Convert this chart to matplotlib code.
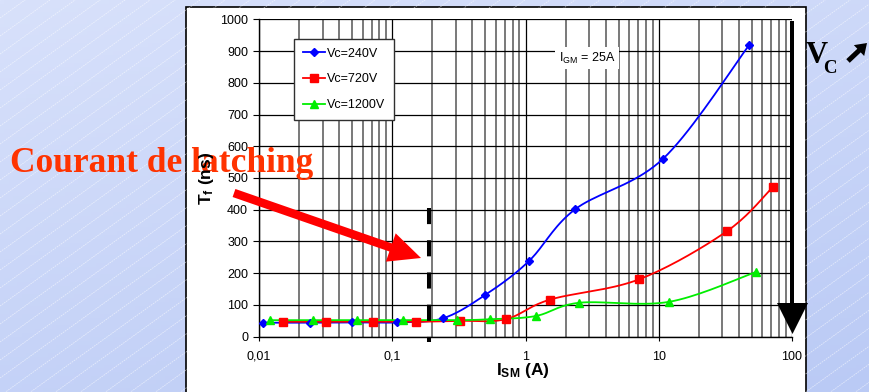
import numpy as np
import matplotlib
matplotlib.use('Agg')
import matplotlib.pyplot as plt
from matplotlib.patches import Rectangle, Polygon, FancyArrow
from matplotlib.lines import Line2D
from matplotlib.ticker import FixedLocator, NullFormatter, LogLocator

plt.rcParams['font.family'] = ['Liberation Sans', 'DejaVu Sans']
plt.rcParams['mathtext.fontset'] = 'custom'
plt.rcParams['mathtext.rm'] = 'Liberation Sans'
plt.rcParams['mathtext.bf'] = 'Liberation Sans:bold'

# values
i_240 = [0.0108, 0.024, 0.050, 0.108, 0.24, 0.50, 1.06, 2.35, 10.8, 47.9]
tf_240 = [44, 44, 45, 45, 58, 132, 238, 401, 561, 920]
i_720 = [0.0152, 0.032, 0.0713, 0.152, 0.32, 0.71, 1.53, 7.15, 32.4, 71.6]
tf_720 = [47, 47, 47, 47, 50, 55, 117, 181, 332, 471]
i_1200 = [0.012, 0.0256, 0.054, 0.12, 0.305, 0.54, 1.19, 2.54, 12.0, 53.7]
tf_1200 = [52, 52, 52, 52, 52, 55, 65, 107, 110, 204]
labels = ['Vc=240V', 'Vc=720V', 'Vc=1200V']
x_ticks = [0.01, 0.1, 1, 10, 100]
x_ticklabels = ['0,01', '0,1', '1', '10', '100']
y_ticks = list(range(0, 1001, 100))
i_latch = 0.19


def smooth(x, y, n=20):
    # catmull-rom through the points, in log-x space (like excel smoothed lines)
    P = np.column_stack([np.log10(x), np.asarray(y, float)])
    out = [P[0]]
    t = np.linspace(0, 1, n)[1:, None]
    for k in range(len(P) - 1):
        p0 = P[k - 1] if k > 0 else P[k]
        p1, p2 = P[k], P[k + 1]
        p3 = P[k + 2] if k + 2 < len(P) else P[k + 1]
        seg = 0.5 * (2 * p1 + (-p0 + p2) * t + (2 * p0 - 5 * p1 + 4 * p2 - p3) * t ** 2
                     + (-p0 + 3 * p1 - 3 * p2 + p3) * t ** 3)
        out.extend(seg)
    out = np.array(out)
    return 10 ** out[:, 0], out[:, 1]


W, H = 869, 392
fig = plt.figure(figsize=(W / 100, H / 100), dpi=100)

# slide background
bg = fig.add_axes([0, 0, 1, 1], zorder=0)
bg.set_xlim(0, W)
bg.set_ylim(H, 0)
bg.axis('off')
gx, gy = np.meshgrid(np.linspace(0, 1, 200), np.linspace(0, 1, 100))
f = (0.35 * gx + 0.65 * gy)[..., None]
c0 = np.array([216, 225, 251]) / 255
c1 = np.array([186, 202, 245]) / 255
bg.imshow(c0 * (1 - f) + c1 * f, extent=[0, W, H, 0], aspect='auto')
for c in np.arange(0, W * 0.72 + H, 18):
    bg.plot([0, W], [c, c - W * 0.72], color='white', lw=0.6, alpha=0.55,
            dashes=(2, 1))
bg.add_patch(Rectangle((186, 7), 620, 400, facecolor='white', edgecolor='black', lw=1.2))
bg.set_xlim(0, W)
bg.set_ylim(H, 0)

# chart
ax = fig.add_axes([259 / W, 1 - 336.7 / H, 533 / W, 317.4 / H], zorder=1)
ax.patch.set_alpha(0)
ax.set_xscale('log')
ax.set_xlim(0.01, 100)
ax.set_ylim(0, 1000)
ax.xaxis.set_major_locator(FixedLocator(x_ticks))
ax.set_xticklabels(x_ticklabels)
ax.xaxis.set_minor_locator(LogLocator(base=10, subs=np.arange(2, 10)))
ax.xaxis.set_minor_formatter(NullFormatter())
ax.set_yticks(y_ticks)
ax.tick_params(axis='both', which='major', labelsize=9, direction='out', color='black')
ax.tick_params(axis='y', length=4.3, pad=3.6)
ax.tick_params(axis='x', length=3, pad=7)
ax.tick_params(which='minor', length=0)
ax.set_axisbelow(True)
ax.grid(axis='y', which='major', color='black', lw=0.9)
ax.grid(axis='x', which='major', color='black', lw=0.9)
ax.grid(axis='x', which='minor', color='#555555', lw=1.1)
for s in ['top', 'right']:
    ax.spines[s].set_visible(False)
for s in ['left', 'bottom']:
    ax.spines[s].set_color('black')
    ax.spines[s].set_linewidth(1.0)

series = [(i_240, tf_240, '#0000ff', 'D', 4.5),
          (i_720, tf_720, '#ff0000', 's', 5.5),
          (i_1200, tf_1200, '#00ee00', '^', 6.0)]
handles = []
for (x, y, col, mk, ms), lab in zip(series, labels):
    sx, sy = smooth(x, y)
    ax.plot(sx, sy, color=col, lw=1.3, zorder=3)
    ax.plot(x, y, ls='none', marker=mk, ms=ms, color=col, mec=col, zorder=4)
    handles.append(Line2D([], [], color=col, lw=1.3, marker=mk, ms=ms, mec=col))

ax.plot([i_latch, i_latch], [405, -17], color='black', lw=2.9, dashes=(4, 4),
        clip_on=False, zorder=5, solid_capstyle='butt', dash_capstyle='butt')

leg = ax.legend(handles, labels, loc='upper left', bbox_to_anchor=(294 / W, 1 - 39 / H),
                bbox_transform=fig.transFigure, fontsize=9, frameon=True, fancybox=False,
                borderaxespad=0, borderpad=0.7, handlelength=1.8, handletextpad=0.15,
                labelspacing=1.1, numpoints=1)
leg.get_frame().set_edgecolor('#303030')
leg.get_frame().set_linewidth(1.0)
leg.get_frame().set_alpha(1)
leg.set_zorder(6)

fig.text(587 / W, 1 - 58 / H, r'I$_{\mathrm{GM}}$ = 25A', fontsize=9, ha='center', va='center',
         bbox=dict(facecolor='white', edgecolor='none', pad=2.5), zorder=6)
fig.text(207 / W, 1 - 178 / H, r'$\mathbf{T_f}$ (ns)', fontsize=12.5, fontweight='bold',
         rotation=90, ha='center', va='center')
fig.text(523 / W, 1 - 370 / H, r'$\mathbf{I_{SM}}$ (A)', fontsize=12.5, fontweight='bold',
         ha='center', va='center')

# annotations on top
ov = fig.add_axes([0, 0, 1, 1], zorder=3)
ov.patch.set_alpha(0)
ov.set_xlim(0, W)
ov.set_ylim(H, 0)
ov.axis('off')
ov.add_patch(Rectangle((790, 21), 4.2, 284, facecolor='black', edgecolor='none'))
ov.add_patch(Polygon([(777, 303), (808, 303), (792.5, 334)], closed=True,
                     facecolor='black', edgecolor='none'))
ov.add_patch(FancyArrow(234, 193, 187, 65, width=8.5, head_width=30, head_length=32,
                        length_includes_head=True, color='#ff0000', lw=0))
ov.text(10, 172, 'Courant de latching', family='Liberation Serif', fontweight='bold',
        fontsize=25.5, color='#ff3300', ha='left', va='baseline')
ov.text(806, 63, 'V', family='Liberation Serif', fontweight='bold', fontsize=22,
        ha='left', va='baseline')
ov.text(823, 73, 'C', family='Liberation Serif', fontweight='bold', fontsize=13.5,
        ha='left', va='baseline')
# heavy north-east arrow next to V_C
ov.add_patch(FancyArrow(848, 61, 19, -18, width=5, head_width=15, head_length=11,
                        length_includes_head=True, color='black', lw=0))

fig.savefig('out.png', dpi=100)
